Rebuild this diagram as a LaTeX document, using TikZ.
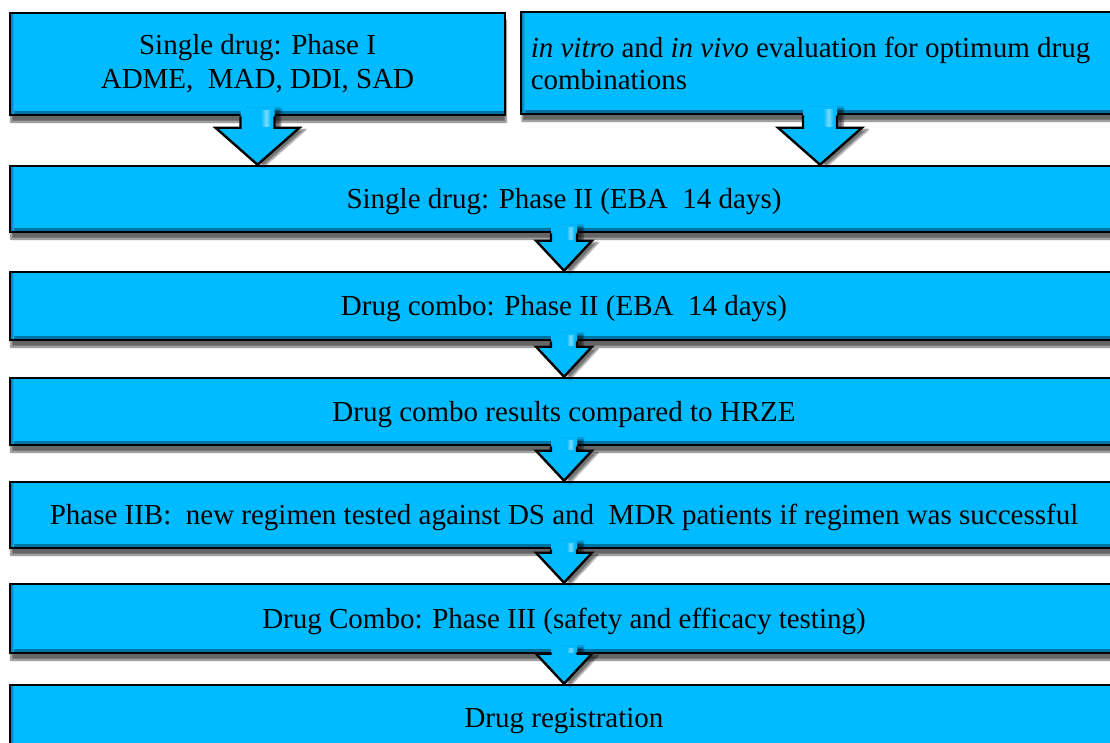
\documentclass[tikz,border=0pt]{standalone}
\usepackage{fontspec}
\setmainfont{Liberation Serif}
\usetikzlibrary{calc,shadows.blur}
\definecolor{boxcyan}{RGB}{0,187,255}
\definecolor{boxdark}{RGB}{0,110,160}
\definecolor{boxlight}{RGB}{120,218,255}
\newcommand\fatarrow[5]{%
  % #1 start anchor, #2 end anchor, #3 stem half width, #4 head half width, #5 head length
  \fill[arrowfill] let \p1=(#1), \p2=(#2) in
    (\x1-#3pt,\y1+9pt) -- (\x1+#3pt,\y1+9pt) -- (\x1+#3pt,\y2+#5pt) -- (\x1+#4pt,\y2+#5pt)
    -- (\x2,\y2) -- (\x1-#4pt,\y2+#5pt) -- (\x1-#3pt,\y2+#5pt) -- cycle;
  \shade[arrowshine] let \p1=(#1), \p2=(#2) in
    (\x1+0.2*#3pt,\y1+6pt) rectangle (\x1+0.8*#3pt,\y2+#5pt+1pt);
  \draw[arrowline] let \p1=(#1), \p2=(#2) in
    (\x1+#3pt,\y1) -- (\x1+#3pt,\y2+#5pt) -- (\x1+#4pt,\y2+#5pt)
    -- (\x2,\y2) -- (\x1-#4pt,\y2+#5pt) -- (\x1-#3pt,\y2+#5pt) -- (\x1-#3pt,\y1);
}
\begin{document}
\begin{tikzpicture}[x=1pt,y=-1pt,
  flowbox/.style={draw=black, line width=2.6pt, fill=boxcyan, inner sep=0pt,
    font=\fontsize{29}{34}\selectfont,
    blur shadow={shadow xshift=1pt, shadow yshift=-7pt, shadow blur steps=8, shadow opacity=60},
    path picture={
      \shade[top color=boxcyan, bottom color=boxdark]
        ([yshift=4pt]path picture bounding box.south west) rectangle (path picture bounding box.south east);
      \shade[left color=boxdark, right color=boxcyan]
        (path picture bounding box.south west) rectangle ([xshift=4pt]path picture bounding box.north west);
    }},
  oneline/.style={flowbox, text height=23pt, text depth=4pt},
  arrowfill/.style={fill=boxcyan,
    blur shadow={shadow xshift=6pt, shadow yshift=-2pt, shadow blur steps=6, shadow opacity=55}},
  arrowshine/.style={left color=boxcyan, right color=boxcyan, middle color=boxlight},
  arrowline/.style={draw=black, line width=2.4pt, line join=miter},
]
\useasboundingbox (0,0) rectangle (1110,742);
\clip (0,0) rectangle (1110,742);

\node[flowbox, minimum width=495pt, minimum height=102pt, align=center] (b1) at (257.5,64)
  {Single drug: Phase I\\ADME,\ \ MAD, DDI, SAD};
\node[flowbox, minimum width=598pt, minimum height=102pt, align=left,
  font=\fontsize{29}{32}\selectfont] (b2) at (820,63)
  {\textit{in vitro} and \textit{in vivo} evaluation for optimum drug\hspace*{19pt}\\combinations};
\node[oneline, minimum width=1108pt, minimum height=66pt] (b3) at (564,199)
  {Single drug: Phase II (EBA\ \ 14 days)};
\node[oneline, minimum width=1108pt, minimum height=68pt] (b4) at (564,306)
  {Drug combo: Phase II (EBA\ \ 14 days)};
\node[oneline, minimum width=1108pt, minimum height=67pt] (b5) at (564,411.5)
  {Drug combo results compared to HRZE};
\node[oneline, minimum width=1108pt, minimum height=66pt] (b6) at (564,515)
  {Phase IIB:\ \ new regimen tested against DS and\ \ MDR patients if regimen was successful};
\node[oneline, minimum width=1108pt, minimum height=69pt] (b7) at (564,618.5)
  {Drug Combo: Phase III (safety and efficacy testing)};
\node[oneline, minimum width=1108pt, minimum height=66pt] (b8) at (564,718)
  {Drug registration};

\fatarrow{b1.south}{b1.south |- b3.north}{17}{42}{37}
\fatarrow{b2.south}{b2.south |- b3.north}{17}{42}{37}
\fatarrow{b3.south}{b4.north}{13}{28}{30}
\fatarrow{b4.south}{b5.north}{13}{28}{30}
\fatarrow{b5.south}{b6.north}{13}{28}{30}
\fatarrow{b6.south}{b7.north}{13}{28}{30}
\fatarrow{b7.south}{b8.north}{13}{28}{30}
\end{tikzpicture}
\end{document}
